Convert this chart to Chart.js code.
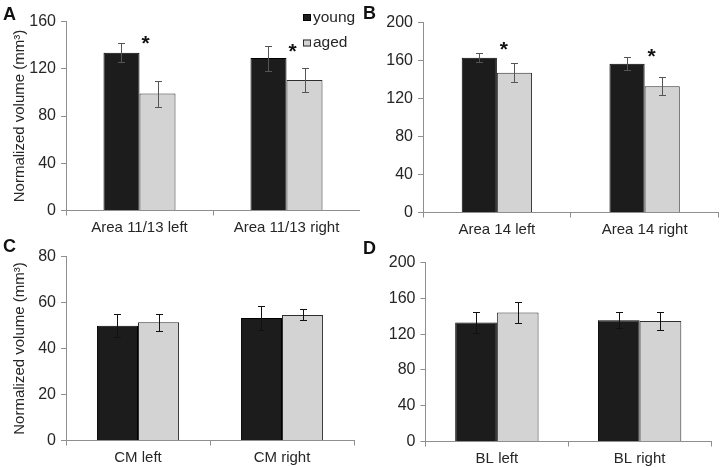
<!DOCTYPE html>
<html><head><meta charset="utf-8">
<script src="https://cdn.jsdelivr.net/npm/chart.js@4"></script>
<style>
body{margin:0;background:#fff;width:720px;height:467px;position:relative;overflow:hidden}
canvas{position:absolute}
</style></head><body>
<canvas id="cC" width="360" height="233" style="left:0;top:234px"></canvas>
<canvas id="cD" width="360" height="233" style="left:360px;top:234px"></canvas>
<canvas id="cA" width="360" height="246" style="left:0;top:0"></canvas>
<canvas id="cB" width="360" height="246" style="left:360px;top:0"></canvas>
<script>
// ---- data ----
const seriesNames = ['young', 'aged'];
const yTitle = 'Normalized volume (mm³)';

const catsA = ['Area 11/13 left', 'Area 11/13 right'];
const youngA = [133.5, 129];
const youngErrA = [8, 10.5];
const agedA = [99, 110.5];
const agedErrA = [11, 10];
const starA = [146, 139.5];
const yTicksA = [0, 40, 80, 120, 160];

const catsB = ['Area 14 left', 'Area 14 right'];
const youngB = [163, 156.5];
const youngErrB = [4.5, 7];
const agedB = [147, 133];
const agedErrB = [10, 9.5];
const starB = [177.5, 169.5];
const yTicksB = [0, 40, 80, 120, 160, 200];

const catsC = ['CM left', 'CM right'];
const youngC = [49.9, 53.3];
const youngErrC = [5, 5.1];
const agedC = [51.4, 54.6];
const agedErrC = [3.7, 2.4];
const yTicksC = [0, 20, 40, 60, 80];

const catsD = ['BL left', 'BL right'];
const youngD = [133, 135.5];
const youngErrD = [12, 9];
const agedD = [144, 134.5];
const agedErrD = [11.5, 10.3];
const yTicksD = [0, 40, 80, 120, 160, 200];

// ---- drawing ----
const FONT = '"Liberation Sans", Arial, sans-serif';
const TXT = '#262626';
const AXIS = '#8f8f8f';
Chart.defaults.font.family = FONT;
Chart.defaults.color = TXT;

const errPlugin = {
  id: 'err',
  afterDatasetsDraw(chart, args, opts) {
    const ctx = chart.ctx, ys = chart.scales.y;
    chart.data.datasets.forEach((ds, i) => {
      const meta = chart.getDatasetMeta(i);
      meta.data.forEach((bar, j) => {
        const v = ds.data[j], e = ds.errors[j];
        const x = Math.round(bar.x) + 0.5;
        const y1 = Math.round(ys.getPixelForValue(v + e)) + 0.5;
        const y2 = Math.round(ys.getPixelForValue(v - e)) + 0.5;
        ctx.save();
        ctx.strokeStyle = opts.color; ctx.lineWidth = opts.width;
        ctx.beginPath();
        ctx.moveTo(x, y1); ctx.lineTo(x, y2);
        ctx.moveTo(x - opts.cap, y1); ctx.lineTo(x + opts.cap, y1);
        ctx.moveTo(x - opts.cap, y2); ctx.lineTo(x + opts.cap, y2);
        ctx.stroke();
        ctx.restore();
      });
    });
  }
};

const decoPlugin = {
  id: 'deco',
  afterDraw(chart, args, opts) {
    const ctx = chart.ctx, ys = chart.scales.y;
    ctx.save();
    // panel letter
    ctx.font = 'bold 18px ' + FONT;
    ctx.fillStyle = '#111';
    ctx.textBaseline = 'alphabetic';
    ctx.textAlign = 'left';
    ctx.fillText(opts.letter, opts.letterX, opts.letterY);
    // significance stars
    if (opts.stars) {
      const m0 = chart.getDatasetMeta(0), m1 = chart.getDatasetMeta(1);
      ctx.font = 'bold 21px ' + FONT;
      ctx.textAlign = 'center';
      opts.stars.forEach((s, j) => {
        if (s == null) return;
        const x = (m0.data[j].x + m1.data[j].x) / 2 + opts.starDx;
        const y = ys.getPixelForValue(s);
        ctx.fillText('*', x, y + 12);
      });
    }
    // legend
    if (opts.legend) {
      const lg = opts.legend;
      ctx.font = '15.5px ' + FONT;
      ctx.textAlign = 'left';
      ctx.textBaseline = 'middle';
      chart.data.datasets.forEach((ds, i) => {
        const cy = lg.y + i * lg.gap;
        ctx.fillStyle = ds.backgroundColor;
        ctx.fillRect(lg.x, cy - 3.5, 8, 7);
        ctx.strokeStyle = ds.borderColor; ctx.lineWidth = 1;
        ctx.strokeRect(lg.x + 0.5, cy - 3, 7, 6);
        ctx.fillStyle = TXT;
        ctx.fillText(ds.label, lg.x + 10, cy);
      });
    }
    ctx.restore();
  }
};

function panel(id, cats, young, youngErr, aged, agedErr, yTicks, lay) {
  const canvas = document.getElementById(id);
  const W = canvas.width, H = canvas.height;
  new Chart(canvas, {
    type: 'bar',
    data: {
      labels: cats,
      datasets: [
        { label: seriesNames[0], data: young, errors: youngErr,
          backgroundColor: '#1c1c1c', borderColor: '#000', borderWidth: 1,
          categoryPercentage: lay.frac, barPercentage: 1 },
        { label: seriesNames[1], data: aged, errors: agedErr,
          backgroundColor: '#d3d3d3', borderColor: '#2e2e2e', borderWidth: 1,
          categoryPercentage: lay.frac, barPercentage: 1 }
      ]
    },
    options: {
      responsive: false, animation: false, devicePixelRatio: 1,
      layout: { padding: { left: 0, top: lay.top, right: W - lay.right, bottom: 0 } },
      plugins: {
        legend: { display: false }, tooltip: { enabled: false },
        err: { color: lay.errColor, width: 1, cap: 3.5 },
        deco: { letter: lay.letter, letterX: 3, letterY: lay.letterY,
                stars: lay.stars, starDx: lay.starDx, legend: lay.legend }
      },
      scales: {
        x: {
          offset: true,
          grid: { display: true, offset: true, drawOnChartArea: false, drawTicks: true, tickLength: 5, color: AXIS },
          border: { display: true, color: AXIS, width: 1 },
          ticks: { font: { size: 15 }, color: TXT, padding: 3, maxRotation: 0, autoSkip: false },
          afterFit: s => { s.height = H - lay.bottom; }
        },
        y: {
          min: yTicks[0], max: yTicks[yTicks.length - 1],
          afterBuildTicks: s => { s.ticks = yTicks.map(v => ({ value: v })); },
          grid: { display: true, drawOnChartArea: false, drawTicks: true, tickLength: 5, color: AXIS },
          border: { display: true, color: AXIS, width: 1 },
          ticks: { font: { size: 16 }, color: TXT, padding: 5 },
          title: lay.title ? { display: true, text: yTitle, font: { size: 15 }, color: TXT, padding: { top: 11, bottom: 0 } } : { display: false },
          afterFit: s => { s.width = lay.left; }
        }
      }
    },
    plugins: [errPlugin, decoPlugin]
  });
}

panel('cC', catsC, youngC, youngErrC, agedC, agedErrC, yTicksC,
  { left: 66, top: 22.5, bottom: 206.5, right: 354, frac: 0.57, title: true, errColor: '#111',
    letter: 'C', letterY: 18 });
panel('cD', catsD, youngD, youngErrD, agedD, agedErrD, yTicksD,
  { left: 65.5, top: 28.5, bottom: 207.5, right: 351, frac: 0.584, title: false, errColor: '#111',
    letter: 'D', letterY: 20 });
panel('cA', catsA, youngA, youngErrA, agedA, agedErrA, yTicksA,
  { left: 66, top: 21.5, bottom: 210.5, right: 360, frac: 0.49, title: true, errColor: '#555',
    letter: 'A', letterY: 20, stars: starA, starDx: 6,
    legend: { x: 303, y: 17.5, gap: 25.5 } });
panel('cB', catsB, youngB, youngErrB, agedB, agedErrB, yTicksB,
  { left: 63, top: 22.5, bottom: 212.5, right: 358.5, frac: 0.476, title: false, errColor: '#555',
    letter: 'B', letterY: 19, stars: starB, starDx: 7 });
</script>
</body></html>
